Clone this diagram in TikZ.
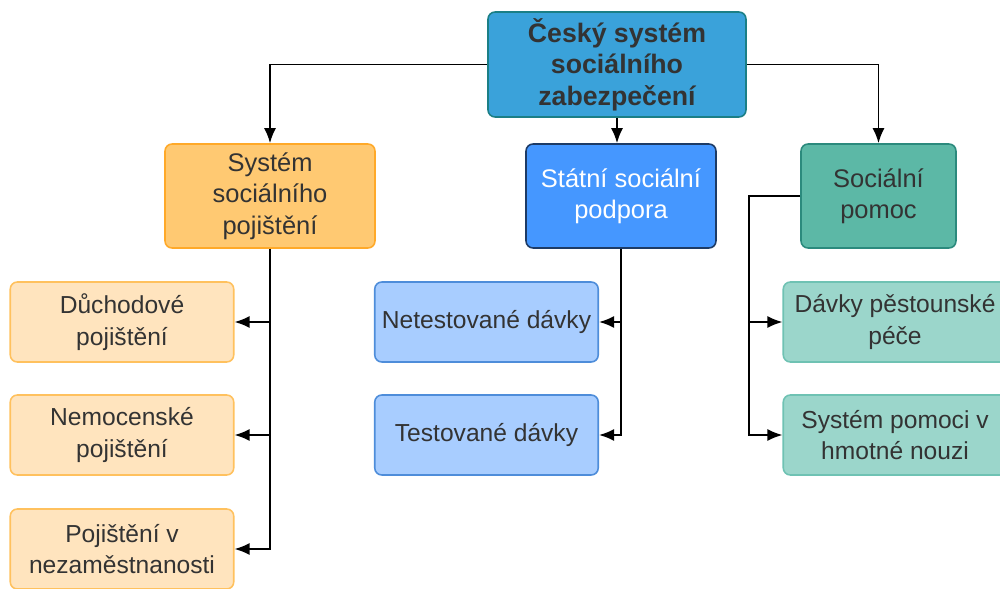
\documentclass[tikz,border=0pt]{standalone}
\usepackage{fontspec}
\setmainfont{Liberation Sans}
\usepackage{tikz}
\usetikzlibrary{positioning}
\usetikzlibrary{arrows.meta}
\usepackage{xcolor}

\definecolor{txtgray}{HTML}{333333}
\definecolor{rootfill}{HTML}{3AA2DA}
\definecolor{rootline}{HTML}{1B7F86}
\definecolor{pojfill}{HTML}{FFC972}
\definecolor{pojline}{HTML}{FFA929}
\definecolor{podfill}{HTML}{4597FF}
\definecolor{podline}{HTML}{1D3B66}
\definecolor{pomfill}{HTML}{5CB8A6}
\definecolor{pomline}{HTML}{2B8A7D}
\definecolor{pojlight}{HTML}{FFE4BE}
\definecolor{pojlightline}{HTML}{FFC15E}
\definecolor{podlight}{HTML}{A8CDFF}
\definecolor{podlightline}{HTML}{4E8DDA}
\definecolor{pomlight}{HTML}{9BD6CB}
\definecolor{pomlightline}{HTML}{6FC2B3}

\begin{document}
\begin{tikzpicture}[x=0.02cm, y=-0.02cm,
  every node/.style={draw, rounded corners=4pt, align=center, text=txtgray,
    line width=0.9pt, inner sep=0pt, font=\fontsize{14}{17.8}\selectfont},
  rootbox/.style={fill=rootfill, draw=rootline, minimum width=5.16cm,
    minimum height=2.1cm, font=\fontsize{15.2}{17.9}\selectfont\bfseries},
  mainbox/.style={minimum height=2.08cm, font=\fontsize{14.5}{17.9}\selectfont},
  subbox/.style={minimum width=4.47cm, minimum height=1.6cm},
  link/.style={draw=black, line width=1.05pt, rounded corners=0pt,
    -{Latex[length=3mm,width=2.4mm]}}]
  \useasboundingbox (0,0) rectangle (1000,588);
  \clip (0,0) rectangle (1000,588);

  % top
  \node[rootbox] (root) at (617,64.5) {Český systém\\sociálního\\zabezpečení};

  % three branches
  \node[mainbox, fill=pojfill, draw=pojline, minimum width=4.2cm] (pojisteni) at (270,196)
    {Systém\\sociálního\\pojištění};
  \node[mainbox, fill=podfill, draw=podline, minimum width=3.8cm, text=white] (podpora) at (621,196)
    {Státní sociální\\podpora};
  \node[mainbox, fill=pomfill, draw=pomline, minimum width=3.1cm] (pomoc) at (878.5,196)
    {Sociální\\pomoc};

  % leaves
  \node[subbox, fill=pojlight, draw=pojlightline] (duchod) at (122,322) {Důchodové\\pojištění};
  \node[subbox, fill=pojlight, draw=pojlightline] (nemoc) at (122,435) {Nemocenské\\pojištění};
  \node[subbox, fill=pojlight, draw=pojlightline] (nezam) at (122,549) {Pojištění v\\nezaměstnanosti};
  \node[subbox, fill=podlight, draw=podlightline] (netest) at (486.5,322) {Netestované dávky};
  \node[subbox, fill=podlight, draw=podlightline] (test) at (486.5,435) {Testované dávky};
  \node[subbox, fill=pomlight, draw=pomlightline] (pestoun) at (895,322) {Dávky pěstounské\\péče};
  \node[subbox, fill=pomlight, draw=pomlightline] (nouze) at (895,435) {Systém pomoci v\\hmotné nouzi};

  % connectors
  \draw[link] (root.west) -| (pojisteni.north);
  \draw[link] (root.south) -- (root.south |- podpora.north);
  \draw[link] (root.east) -| (pomoc.north);

  \draw[link] (pojisteni.south) |- (duchod.east);
  \draw[link] (pojisteni.south) |- (nemoc.east);
  \draw[link] (pojisteni.south) |- (nezam.east);

  \draw[link] (podpora.south) |- (netest.east);
  \draw[link] (podpora.south) |- (test.east);

  \coordinate (pombus) at (749,196);
  \draw[link] (pomoc.west) -- (pombus) |- (pestoun.west);
  \draw[link] (pombus) |- (nouze.west);
\end{tikzpicture}
\end{document}
